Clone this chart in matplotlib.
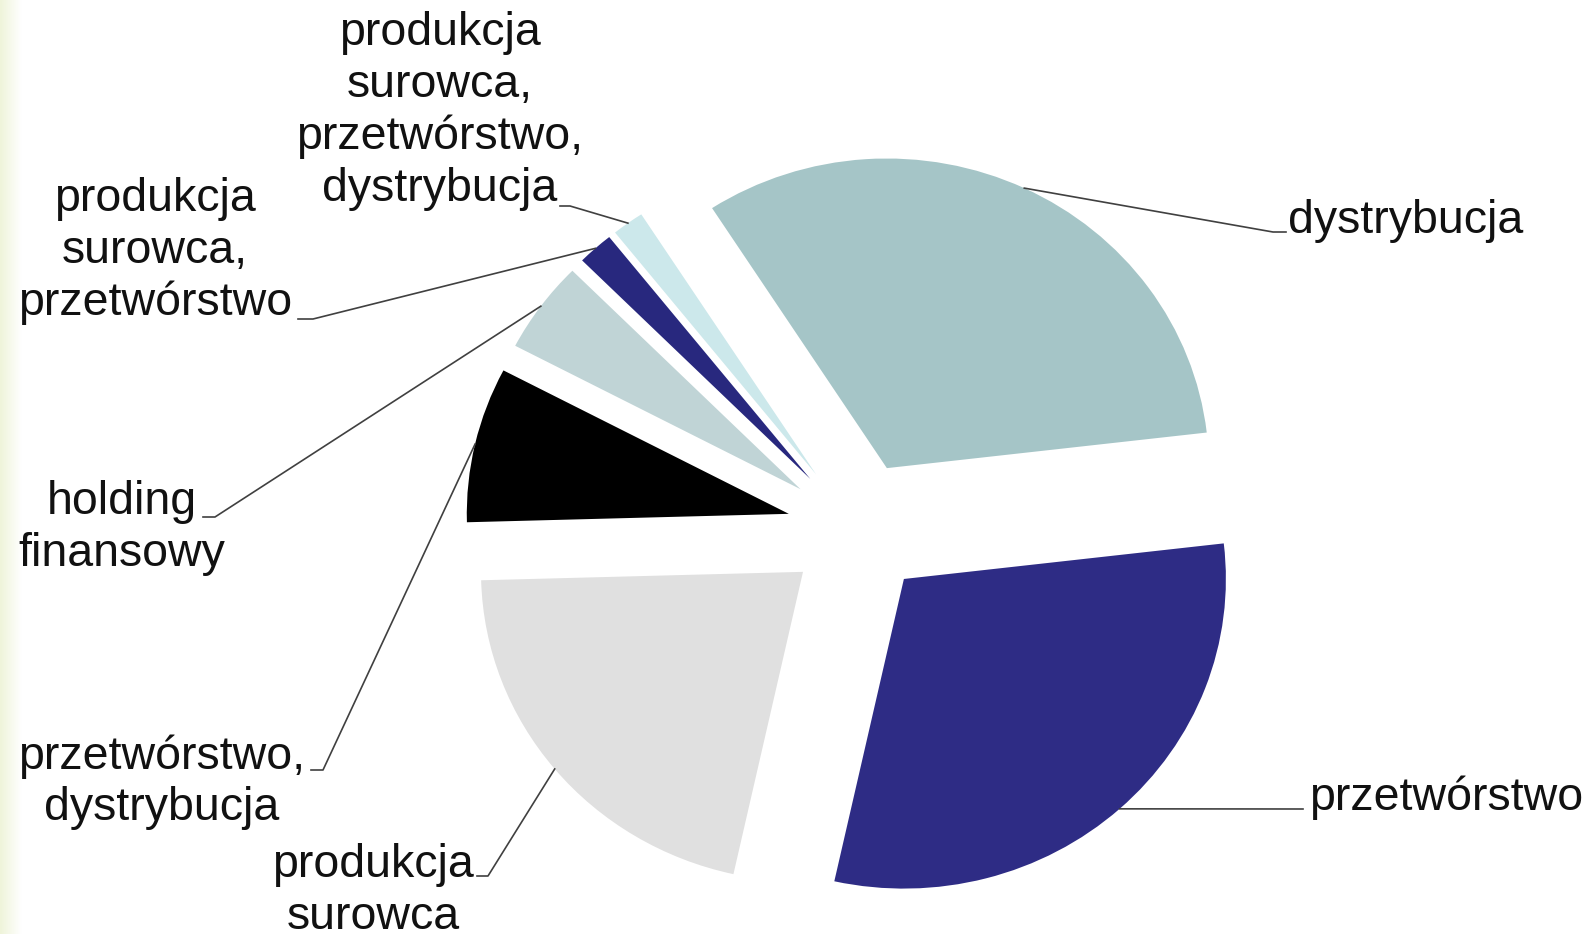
# pie chart: enterprise profile shares (exploded pie with leader lines)
print('### --- section_s: setting --- ###')
import numpy as np
from matplotlib import pyplot as plt
from matplotlib.colors import LinearSegmentedColormap

plt.rcParams['font.family'] = ['Liberation Sans', 'DejaVu Sans']

## --- data (counterclockwise from the right) --- ##
labels = [
    'dystrybucja',
    'produkcja\nsurowca,\nprzetwórstwo,\ndystrybucja',
    'produkcja\nsurowca,\nprzetwórstwo',
    'holding\nfinansowy',
    'przetwórstwo,\ndystrybucja',
    'produkcja\nsurowca',
    'przetwórstwo',
]
shares = [32.3, 1.6, 1.8, 4.8, 8.1, 21.1, 30.3]  # percent
colors = ['#a5c5c7', '#cce8eb', '#28287e', '#c0d4d6', '#000000', '#e0e0e0', '#2e2c85']

## --- layout (pixels, y from top) --- ##
WW, HH = 1588, 934
ysq = 1.04  # pie is slightly flattened vertically
cen, rad, expl = (857, 529), 322, 70
txt_pos = [(1288, 221, 'left'), (440, 111, 'center'), (155, 251, 'center'),
           (122, 528, 'center'), (162, 782, 'center'), (373, 891, 'center'),
           (1309, 798, 'left')]
elbow = [(1273, 232), (570, 206), (313, 319), (215, 517), (323, 770), (488, 876), (1303, 809)]
lend = [(1286, 232), (560, 206), (298, 319), (203, 517), (311, 770), (477, 876), (1303, 809)]

def fy(y):
    return (HH - y) * ysq

# =========================================================
print('### --- section_d: drawing graph --- ###')
fig = plt.figure(figsize=(WW / 100, HH / 100), dpi=100)
ax = fig.add_axes([0, 0, 1, 1])

# pale strip on the left edge
cmap = LinearSegmentedColormap.from_list('strip', ['#eff4da', '#ffffff'])
ax.imshow(np.linspace(0, 1, 30)[None, :], cmap=cmap, extent=[0, 22, 0, HH * ysq],
          aspect='auto', zorder=0)

wedges, _ = ax.pie(shares, colors=colors, startangle=6.6, counterclock=True,
                   explode=[expl] * len(shares), radius=rad,
                   center=(cen[0], fy(cen[1])), wedgeprops=dict(linewidth=0))

for wdg, lab, (tx, ty, ha), (ex, ey), (lx, ly) in zip(wedges, labels, txt_pos, elbow, lend):
    thm = np.deg2rad(0.5 * (wdg.theta1 + wdg.theta2))
    ax0 = wdg.center[0] + wdg.r * np.cos(thm)
    ay0 = wdg.center[1] + wdg.r * np.sin(thm)
    ax.plot([ax0, ex, lx], [ay0, fy(ey), fy(ly)], color='#404040', linewidth=1.2, zorder=3)
    ax.text(tx, fy(ty), lab, ha=ha, va='center', fontsize=33.5,
            linespacing=1.22, multialignment='center', color='#111111')

ax.set_xlim(0, WW)
ax.set_ylim(0, HH * ysq)
ax.set_aspect('auto')
ax.axis('off')

print(': saving figure : ')
fig.savefig('out.png', dpi=100, facecolor='white')
